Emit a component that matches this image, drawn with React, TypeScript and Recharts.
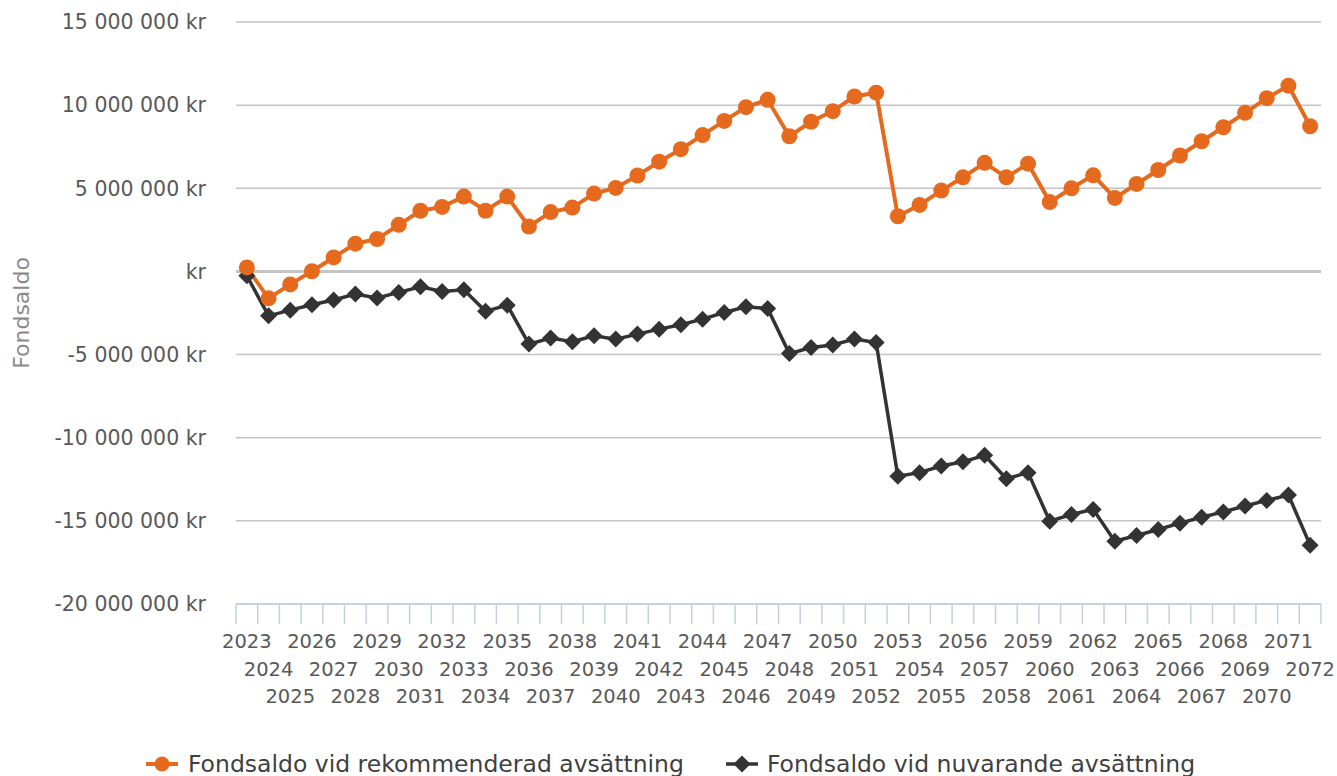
import React from 'react';
import { LineChart, Line, XAxis, YAxis, CartesianGrid, Legend, ReferenceLine } from 'recharts';

const years = [
  '2023', '2024', '2025', '2026', '2027', '2028', '2029', '2030', '2031', '2032',
  '2033', '2034', '2035', '2036', '2037', '2038', '2039', '2040', '2041', '2042',
  '2043', '2044', '2045', '2046', '2047', '2048', '2049', '2050', '2051', '2052',
  '2053', '2054', '2055', '2056', '2057', '2058', '2059', '2060', '2061', '2062',
  '2063', '2064', '2065', '2066', '2067', '2068', '2069', '2070', '2071', '2072',
];

const rekommenderad = [
  240000, -1620000, -780000, 10000, 840000, 1670000, 1950000, 2800000, 3650000, 3880000,
  4500000, 3650000, 4500000, 2700000, 3570000, 3840000, 4680000, 5020000, 5770000, 6600000,
  7350000, 8200000, 9050000, 9880000, 10320000, 8130000, 9000000, 9640000, 10520000, 10750000,
  3320000, 4000000, 4860000, 5660000, 6530000, 5660000, 6480000, 4170000, 5000000, 5780000,
  4420000, 5260000, 6100000, 6970000, 7830000, 8670000, 9540000, 10420000, 11170000, 8730000,
];

const nuvarande = [
  -260000, -2670000, -2330000, -2000000, -1720000, -1360000, -1600000, -1260000, -920000, -1200000,
  -1100000, -2400000, -2030000, -4370000, -4000000, -4230000, -3870000, -4070000, -3770000, -3470000,
  -3210000, -2870000, -2470000, -2130000, -2230000, -4940000, -4580000, -4420000, -4070000, -4280000,
  -12310000, -12100000, -11700000, -11450000, -11060000, -12470000, -12100000, -15020000, -14620000, -14310000,
  -16220000, -15880000, -15520000, -15140000, -14780000, -14460000, -14110000, -13770000, -13450000, -16460000,
];

const yTicks = [-20000000, -15000000, -10000000, -5000000, 0, 5000000, 10000000, 15000000];

const ORANGE = '#e66a1e';
const DARK = '#333333';
const FONT = '"DejaVu Sans", sans-serif';

const data = years.map((year, i) => ({
  year,
  rekommenderad: rekommenderad[i],
  nuvarande: nuvarande[i],
}));

const formatKr = (v: number) => {
  if (v === 0) return 'kr';
  const s = Math.abs(v).toString().replace(/\B(?=(\d{3})+(?!\d))/g, ' ');
  return (v < 0 ? '-' : '') + s + ' kr';
};

const YearTick = (props: any) => {
  const { x, y, payload, index } = props;
  const half = payload && payload.offset ? payload.offset : 10.85;
  const row = index % 3;
  const isLast = index === years.length - 1;
  return (
    <g>
      <line x1={x - half} y1={y} x2={x - half} y2={y + 20} stroke="#c3d0e2" strokeWidth={1.5} />
      {isLast && <line x1={x + half} y1={y} x2={x + half} y2={y + 20} stroke="#c3d0e2" strokeWidth={1.5} />}
      <text x={x} y={y + 44 + row * 27.5} textAnchor="middle" fill="#595959" fontSize={19.5} fontFamily={FONT}>
        {payload.value}
      </text>
    </g>
  );
};

const Diamond = (props: any) => {
  const { cx, cy, index } = props;
  if (cx == null || cy == null) return <g key={index} />;
  const r = 8.5;
  return (
    <polygon
      key={index}
      points={`${cx},${cy - r} ${cx + r},${cy} ${cx},${cy + r} ${cx - r},${cy}`}
      fill={DARK}
    />
  );
};

const LegendContent = () => (
  <div
    style={{
      display: 'flex',
      justifyContent: 'center',
      alignItems: 'center',
      height: 32,
      paddingTop: 8,
      paddingLeft: 20,
      boxSizing: 'border-box',
      fontFamily: FONT,
      fontSize: 23.5,
      color: '#404040',
      whiteSpace: 'nowrap',
    }}
  >
    <div style={{ display: 'flex', alignItems: 'center' }}>
      <svg width={32} height={20}>
        <line x1={0} y1={10} x2={32} y2={10} stroke={ORANGE} strokeWidth={4} />
        <circle cx={16} cy={10} r={7.5} fill={ORANGE} />
      </svg>
      <span style={{ marginLeft: 10 }}>Fondsaldo vid rekommenderad avsättning</span>
    </div>
    <div style={{ display: 'flex', alignItems: 'center', marginLeft: 42 }}>
      <svg width={32} height={20}>
        <line x1={0} y1={10} x2={32} y2={10} stroke={DARK} strokeWidth={3.5} />
        <polygon points="16,1.5 24.5,10 16,18.5 7.5,10" fill={DARK} />
      </svg>
      <span style={{ marginLeft: 9 }}>Fondsaldo vid nuvarande avsättning</span>
    </div>
  </div>
);

export default function App() {
  return (
    <div style={{ position: 'absolute', left: 0, top: 0, background: '#fff' }}>
      <LineChart width={1337} height={776} data={data} margin={{ top: 22, right: 16, left: 0, bottom: 0 }}>
        <CartesianGrid horizontal vertical={false} stroke="#c4c4c4" strokeWidth={1.5} />
        <XAxis
          dataKey="year"
          scale="band"
          interval={0}
          height={140}
          tickSize={0}
          tickMargin={0}
          tickLine={false}
          axisLine={{ stroke: '#c3d0e2', strokeWidth: 1.5 }}
          tick={<YearTick />}
        />
        <YAxis
          width={236}
          domain={[-20000000, 15000000]}
          ticks={yTicks}
          interval={0}
          tickFormatter={formatKr}
          axisLine={false}
          tickLine={false}
          tickSize={0}
          tickMargin={30}
          tick={{ fill: '#595959', fontSize: 20.5, fontFamily: FONT }}
          label={{
            value: 'Fondsaldo',
            angle: -90,
            position: 'insideLeft',
            offset: 21,
            textAnchor: 'middle',
            style: { fill: '#8a8a8a', fontSize: 22, fontFamily: FONT },
          }}
        />
        <ReferenceLine y={0} stroke="#c4c4c4" strokeWidth={3} />
        <Legend verticalAlign="bottom" content={<LegendContent />} wrapperStyle={{ height: 32 }} />
        <Line
          type="linear"
          dataKey="nuvarande"
          name="Fondsaldo vid nuvarande avsättning"
          stroke={DARK}
          strokeWidth={3.5}
          dot={Diamond}
          activeDot={false}
          isAnimationActive={false}
        />
        <Line
          type="linear"
          dataKey="rekommenderad"
          name="Fondsaldo vid rekommenderad avsättning"
          stroke={ORANGE}
          strokeWidth={4}
          dot={{ r: 8, fill: ORANGE, stroke: 'none' }}
          activeDot={false}
          isAnimationActive={false}
        />
      </LineChart>
    </div>
  );
}
